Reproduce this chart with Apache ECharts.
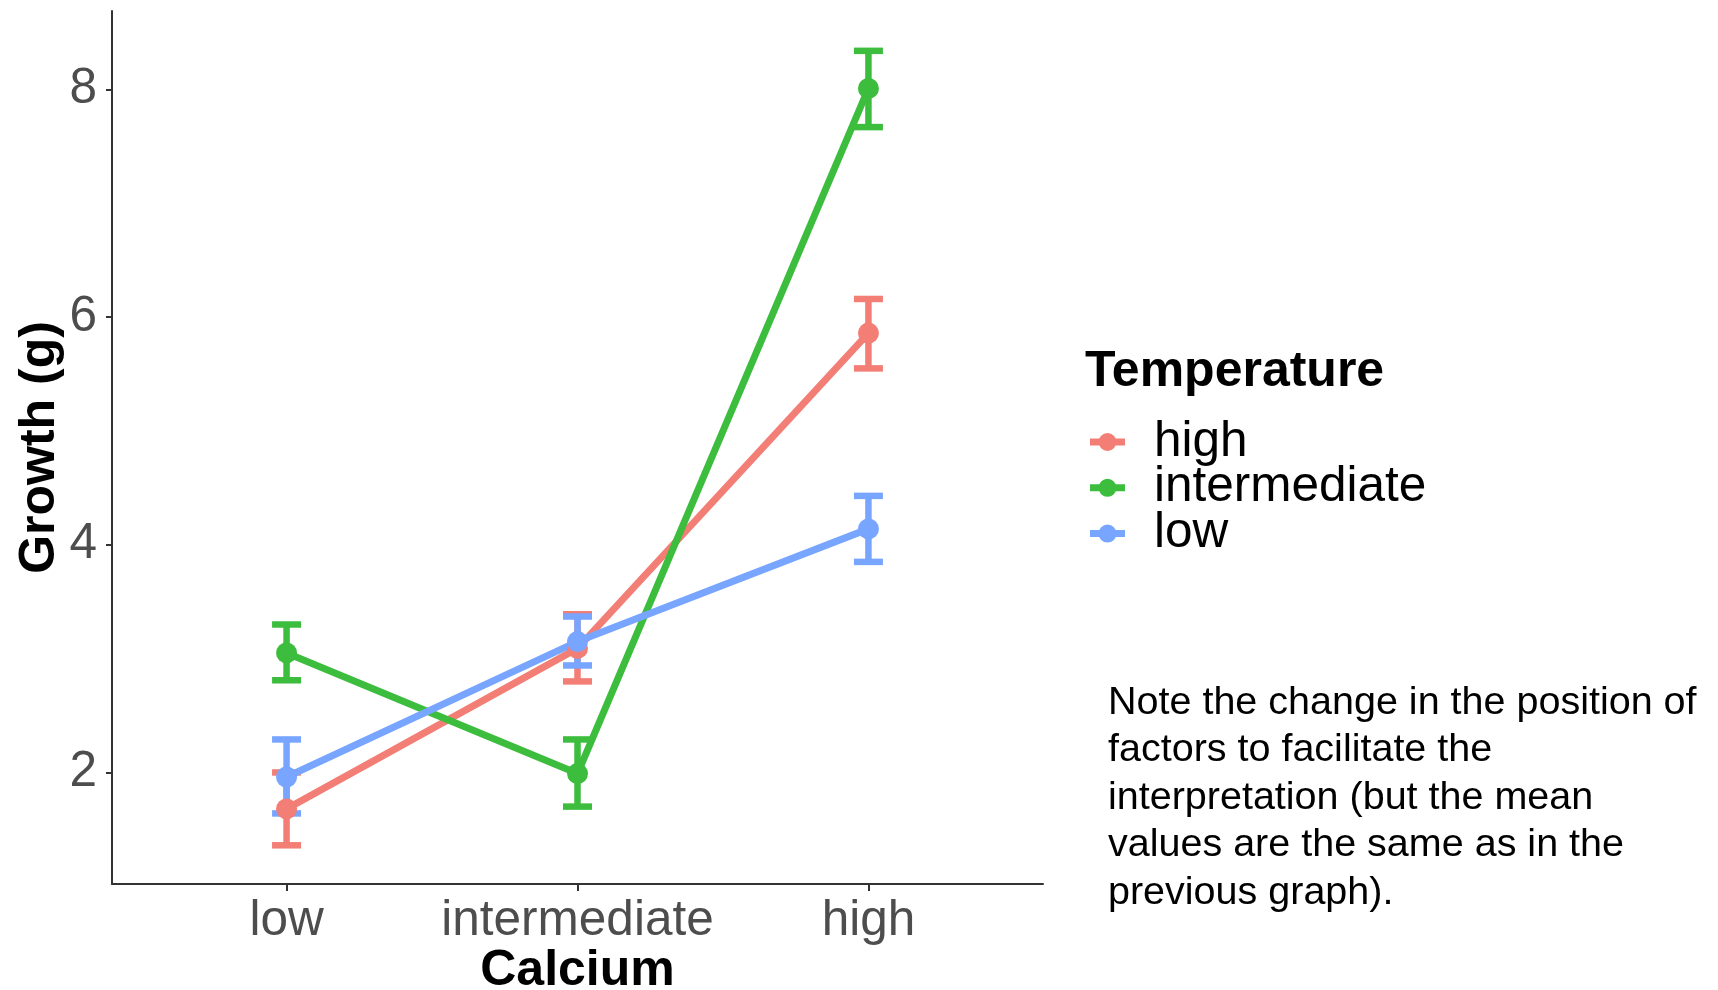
<!DOCTYPE html>
<html>
<head>
<meta charset="utf-8">
<title>Growth by Calcium and Temperature</title>
<script src="https://cdn.jsdelivr.net/npm/echarts@6/dist/echarts.min.js"></script>
<style>
  html, body { margin: 0; padding: 0; background: #ffffff; }
  #chart { width: 1718px; height: 990px; }
</style>
</head>
<body>
<div id="chart"></div>
<script>
// Calcium levels on the x axis (positions 1..3 on a value scale)
const calciumLevels = ['low', 'intermediate', 'high'];
const temperatureLevels = ['high', 'intermediate', 'low'];
const yTicks = [2, 4, 6, 8];

// Mean growth (g) with lower / upper error-bar limits, one array per temperature
const meanHighTemp = [1.68, 3.09, 5.86];
const lowerHighTemp = [1.36, 2.80, 5.55];
const upperHighTemp = [2.00, 3.39, 6.16];

const meanIntermediateTemp = [3.05, 1.99, 8.01];
const lowerIntermediateTemp = [2.81, 1.70, 7.67];
const upperIntermediateTemp = [3.30, 2.29, 8.34];

const meanLowTemp = [1.96, 3.15, 4.14];
const lowerLowTemp = [1.64, 2.94, 3.85];
const upperLowTemp = [2.29, 3.37, 4.43];

const noteText = 'Note the change in the position of\nfactors to facilitate the\ninterpretation (but the mean\nvalues are the same as in the\nprevious graph).';

const colors = { high: '#F27E75', intermediate: '#3DBD3D', low: '#77A5FF' };
const FONT = '"Liberation Sans", Arial, Helvetica, sans-serif';

// Legend key: thick line segment with a dot in the middle (35 x 18 box)
const LEGEND_KEY = 'path://M0,5.5L35,5.5L35,12.5L0,12.5Z M26.5,9A9,9,0,1,1,8.5,9A9,9,0,1,1,26.5,9Z';

const groups = [
  { name: 'high', mean: meanHighTemp, lower: lowerHighTemp, upper: upperHighTemp },
  { name: 'intermediate', mean: meanIntermediateTemp, lower: lowerIntermediateTemp, upper: upperIntermediateTemp },
  { name: 'low', mean: meanLowTemp, lower: lowerLowTemp, upper: upperLowTemp }
];

const chart = echarts.init(document.getElementById('chart'), null, { renderer: 'canvas' });

const CAP_HALF = 14.5;
const BAR_WIDTH = 6.5;

// Error bars: vertical segment plus top and bottom caps
function errorBarSeries(g) {
  const data = calciumLevels.map((c, i) => [i + 1, g.lower[i], g.upper[i]]);
  return {
    type: 'custom',
    name: g.name + ' error bars',
    z: 2,
    data: data,
    encode: { x: 0, y: [1, 2] },
    itemStyle: { color: colors[g.name] },
    renderItem: function (params, api) {
      const x = api.value(0);
      const lo = api.coord([x, api.value(1)]);
      const hi = api.coord([x, api.value(2)]);
      const style = { stroke: colors[g.name], lineWidth: BAR_WIDTH, fill: null };
      return {
        type: 'group',
        children: [
          { type: 'line', shape: { x1: lo[0], y1: lo[1], x2: hi[0], y2: hi[1] }, style: style },
          { type: 'line', shape: { x1: hi[0] - CAP_HALF, y1: hi[1], x2: hi[0] + CAP_HALF, y2: hi[1] }, style: style },
          { type: 'line', shape: { x1: lo[0] - CAP_HALF, y1: lo[1], x2: lo[0] + CAP_HALF, y2: lo[1] }, style: style }
        ]
      };
    }
  };
}

// Mean points joined by lines
function lineSeries(g) {
  return {
    type: 'line',
    name: g.name,
    z: 3,
    data: calciumLevels.map((c, i) => [i + 1, g.mean[i]]),
    symbol: 'circle',
    symbolSize: 21,
    showSymbol: true,
    lineStyle: { width: 7, color: colors[g.name] },
    itemStyle: { color: colors[g.name] },
    emphasis: { disabled: true },
    animation: false
  };
}

const series = [];
groups.forEach(g => series.push(errorBarSeries(g)));
groups.forEach(g => series.push(lineSeries(g)));

const option = {
  backgroundColor: '#ffffff',
  animation: false,
  textStyle: { fontFamily: FONT },
  grid: {
    left: 112, right: 675, top: 11, bottom: 106,
    containLabel: false,
    outerBoundsMode: 'none'
  },
  xAxis: {
    type: 'value',
    min: 0.4,
    max: 3.6,
    name: 'Calcium',
    nameLocation: 'middle',
    nameGap: 62,
    nameMoveOverlap: false,
    nameTextStyle: { fontFamily: FONT, fontSize: 50, fontWeight: 'bold', color: '#000000', lineHeight: 50 },
    axisLine: { show: true, onZero: false, lineStyle: { color: '#333333', width: 2 } },
    axisTick: { show: true, length: 7, lineStyle: { color: '#333333', width: 2 }, customValues: [1, 2, 3] },
    axisLabel: {
      show: true,
      customValues: [1, 2, 3],
      formatter: v => calciumLevels[Math.round(v) - 1] || '',
      fontFamily: FONT, fontSize: 49.5, color: '#4D4D4D', margin: 13, lineHeight: 49.5
    },
    splitLine: { show: false }
  },
  yAxis: {
    type: 'value',
    min: 1.02,
    max: 8.69,
    name: 'Growth (g)',
    nameLocation: 'middle',
    nameGap: 47,
    nameMoveOverlap: false,
    nameTextStyle: { fontFamily: FONT, fontSize: 50, fontWeight: 'bold', color: '#000000', lineHeight: 50 },
    axisLine: { show: true, onZero: false, lineStyle: { color: '#333333', width: 2 } },
    axisTick: { show: true, length: 6, lineStyle: { color: '#333333', width: 2 }, customValues: yTicks },
    axisLabel: {
      show: true,
      customValues: yTicks,
      formatter: v => String(v),
      fontFamily: FONT, fontSize: 49.5, color: '#4D4D4D', margin: 15
    },
    splitLine: { show: false }
  },
  legend: {
    orient: 'vertical',
    left: 1090,
    top: 417,
    padding: 0,
    itemGap: -4.2,
    itemWidth: 35,
    itemHeight: 18,
    icon: LEGEND_KEY,
    data: temperatureLevels,
    selectedMode: false,
    textStyle: { fontFamily: FONT, fontSize: 49.5, color: '#000000', lineHeight: 45.5, padding: [0, 0, 0, 24] }
  },
  graphic: [
    {
      type: 'text',
      left: 1085,
      top: 347.5,
      style: { text: 'Temperature', fontFamily: FONT, fontSize: 50, fontWeight: 'bold', fill: '#000000', lineHeight: 50 }
    },
    {
      type: 'text',
      left: 1108,
      top: 679,
      style: { text: noteText, fontFamily: FONT, fontSize: 39.5, fill: '#000000', lineHeight: 47.5 }
    }
  ],
  series: series
};

chart.setOption(option);
</script>
</body>
</html>
